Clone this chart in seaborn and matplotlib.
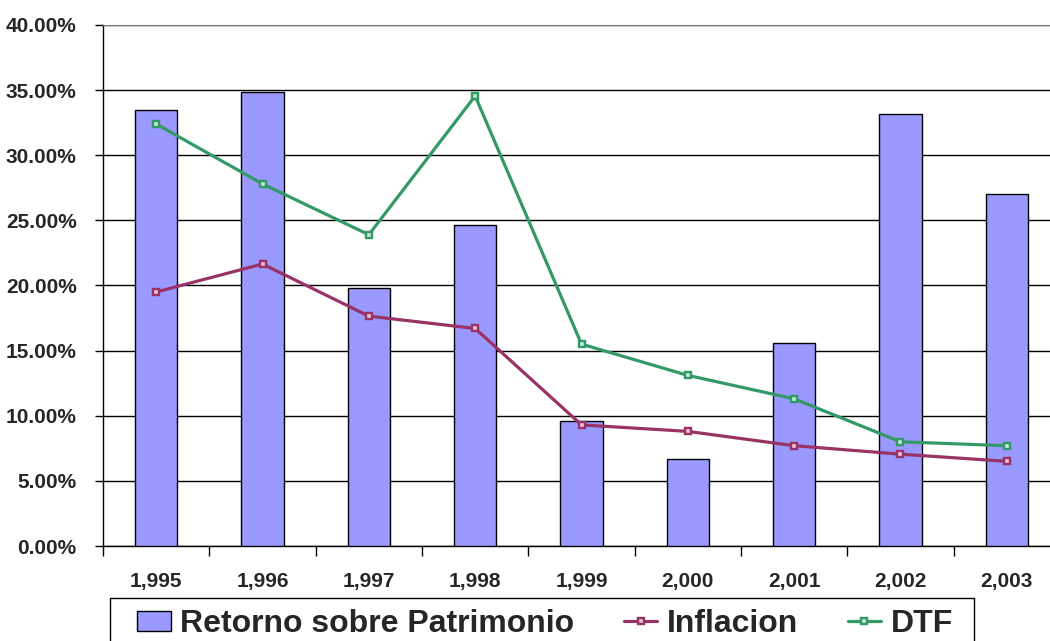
import matplotlib
matplotlib.use('Agg')
import matplotlib.pyplot as plt
from matplotlib.patches import Rectangle
from matplotlib.ticker import FixedLocator, FuncFormatter
import seaborn as sns
import numpy as np

years = ['1,995', '1,996', '1,997', '1,998', '1,999', '2,000', '2,001', '2,002', '2,003']
retorno = [33.5, 34.85, 19.8, 24.65, 9.6, 6.7, 15.6, 33.2, 27.0]
inflacion = [19.5, 21.65, 17.65, 16.7, 9.3, 8.8, 7.7, 7.05, 6.5]
dtf = [32.4, 27.8, 23.9, 34.55, 15.5, 13.1, 11.3, 8.0, 7.7]

BAR_COLOR = '#9999ff'
INFL_COLOR = '#993366'
DTF_COLOR = '#339966'

W, H = 1050, 641

sns.set_style('white')
plt.rcParams['font.family'] = ['Liberation Sans', 'DejaVu Sans']
plt.rcParams['font.weight'] = 'bold'

fig = plt.figure(figsize=(W / 100, H / 100), dpi=100)
ax = fig.add_axes([103 / W, 1 - 546 / H, 957 / W, 521 / H])

sns.barplot(x=years, y=retorno, color=BAR_COLOR, edgecolor='black', linewidth=1,
            width=0.4, saturation=1, ax=ax, label='Retorno sobre Patrimonio', zorder=3)
sns.pointplot(x=years, y=inflacion, color=INFL_COLOR, markers='s', markersize=4,
              markerfacecolor='#e8c8d8', linewidth=2.3, ax=ax, label='Inflacion', zorder=4)
sns.pointplot(x=years, y=dtf, color=DTF_COLOR, markers='s', markersize=4,
              markerfacecolor='#c8e8d8', linewidth=2.3, ax=ax, label='DTF', zorder=4)

ax.set_ylim(0, 40)
ax.set_xlim(-0.5, len(years) - 0.5)
ax.set_yticks(np.arange(0, 45, 5))
ax.yaxis.set_major_formatter(FuncFormatter(lambda v, p: f'{v:.2f}%'))
ax.yaxis.grid(True, color='black', linewidth=1, zorder=0)
ax.set_axisbelow(True)

ax.tick_params(axis='y', length=6, width=1, color='black', pad=13,
               labelsize=15, left=True)
ax.tick_params(axis='x', which='major', length=0, pad=19, labelsize=15)
ax.xaxis.set_minor_locator(FixedLocator(np.arange(-0.5, len(years), 1)))
ax.tick_params(axis='x', which='minor', length=7, width=1, color='black',
               bottom=True, direction='out')
for lbl in ax.get_xticklabels() + ax.get_yticklabels():
    lbl.set_fontweight('bold')

ax.set_xlabel('')
ax.set_ylabel('')
for s in ['left', 'bottom']:
    ax.spines[s].set_color('black')
    ax.spines[s].set_linewidth(1)
ax.spines['top'].set_color('#808080')
ax.spines['right'].set_visible(False)

# legend box (runs off the bottom edge like the original)
fig.patches.append(Rectangle((110 / W, -0.05), (974 - 110) / W, 0.05 + 1 - 598 / H,
                             transform=fig.transFigure, facecolor='white',
                             edgecolor='black', linewidth=1, zorder=5))

if ax.get_legend() is not None:
    ax.get_legend().remove()
handles, labels = ax.get_legend_handles_labels()
order = [labels.index(n) for n in ['Retorno sobre Patrimonio', 'Inflacion', 'DTF']]
handles = [handles[i] for i in order]
labels = [labels[i] for i in order]
leg = fig.legend(handles, labels, loc='upper left', bbox_to_anchor=(137 / W, 1 - 609 / H),
                 ncol=3, frameon=False,
                 prop={'size': 23, 'weight': 'bold'}, handlelength=1.05,
                 handleheight=0.58, handletextpad=0.3, columnspacing=1.55,
                 borderpad=0, borderaxespad=0)
leg.set_zorder(6)

fig.savefig('out.png', dpi=100)
